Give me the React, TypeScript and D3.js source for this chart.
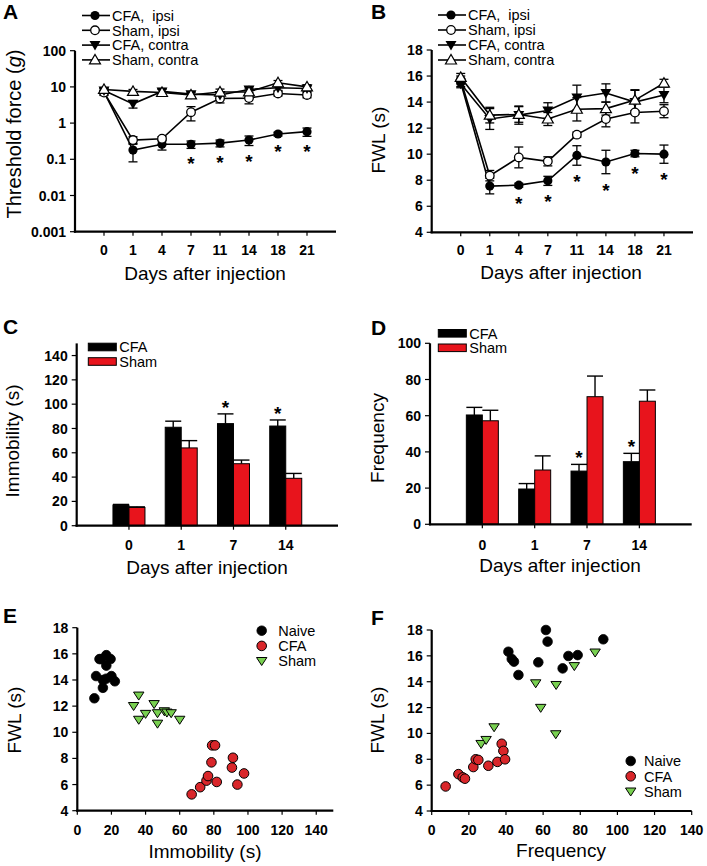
import React from 'react';
import * as d3 from 'd3';

const FONT = "'Liberation Sans', Arial, Helvetica, sans-serif";

// ---------- Panel A / B data ----------
const lineDays = ['0', '1', '4', '7', '11', '14', '18', '21'];
const lineSeriesNames = ['CFA,  ipsi', 'Sham, ipsi', 'CFA, contra', 'Sham, contra'];
const lineMarkers = ['fc', 'oc', 'ft', 'ot'];

const thrCfaIpsi = [7.3, 0.18, 0.26, 0.26, 0.28, 0.34, 0.5, 0.58];
const thrCfaIpsiErr = [1.5, 0.095, 0.08, 0.06, 0.06, 0.1, 0.06, 0.15];
const thrShamIpsi = [7, 0.34, 0.37, 2.0, 4.8, 4.9, 6.6, 6.0];
const thrShamIpsiErr = [1, 0.08, 0.05, 0.85, 1.2, 1.5, 1, 1];
const thrCfaContra = [8, 3.4, 7.5, 6.3, 6.0, 8.5, 9.5, 9.0];
const thrCfaContraErr = [1, 0.8, 1.5, 1, 1.2, 1.5, 1.5, 1.5];
const thrShamContra = [8.5, 7.5, 7.0, 6.0, 7.2, 7.3, 13, 10];
const thrShamContraErr = [1, 1, 1.5, 1, 1.5, 1.5, 2, 1.5];
const thrStars = [3, 4, 5, 6, 7];
const thrTicks = [0.001, 0.01, 0.1, 1, 10, 100];
const thrTickLabels = ['0.001', '0.01', '0.1', '1', '10', '100'];

const fwlCfaIpsi = [15.5, 7.55, 7.62, 7.95, 9.9, 9.4, 10.05, 10.0];
const fwlCfaIpsiErr = [0.3, 0.6, 0.15, 0.35, 0.75, 0.9, 0.25, 0.7];
const fwlShamIpsi = [15.7, 8.35, 9.75, 9.45, 11.5, 12.7, 13.2, 13.3];
const fwlShamIpsiErr = [0.3, 0.4, 0.8, 0.35, 0.2, 0.6, 0.8, 0.5];
const fwlCfaContra = [15.4, 12.7, 13.0, 13.35, 14.35, 14.7, 14.0, 14.55];
const fwlCfaContraErr = [0.3, 0.8, 0.7, 0.6, 0.95, 0.7, 0.9, 0.6];
const fwlShamContra = [15.9, 13.0, 13.05, 12.7, 13.45, 13.5, 14.15, 15.45];
const fwlShamContraErr = [0.3, 0.6, 0.6, 0.5, 0.9, 0.5, 0.8, 0.3];
const fwlStars = [2, 3, 4, 5, 6, 7];
const fwlTicks = [4, 6, 8, 10, 12, 14, 16, 18];

// ---------- Panel C / D data ----------
const barDays = ['0', '1', '7', '14'];
const barNames = ['CFA', 'Sham'];
const immCFA = [17, 81, 84, 82];
const immCFAErr = [0.5, 5, 8, 5];
const immSham = [15, 64, 51, 39];
const immShamErr = [0.5, 6, 3, 4];
const immStars = [2, 3];
const immTicks = [0, 20, 40, 60, 80, 100, 120, 140];
const freqCFA = [60.4, 19.5, 29.4, 34.6];
const freqCFAErr = [4.2, 3, 3.7, 4.6];
const freqSham = [57.2, 30, 70.5, 68];
const freqShamErr = [5.8, 7.8, 11.4, 6.2];
const freqStars = [2, 3];
const freqTicks = [0, 20, 40, 60, 80, 100];

// ---------- Panel E / F data ----------
const scatterNames = ['Naive', 'CFA', 'Sham'];
const eNaiveX = [10, 11, 13, 14, 17, 19.5, 17, 15, 15, 20, 22, 17];
const eNaiveY = [12.6, 14.3, 15.6, 15.6, 15.9, 15.6, 15.1, 14.0, 13.4, 14.3, 13.9, 14.1];
const eCfaX = [67, 72, 75.7, 76.6, 78.6, 79, 80.7, 81.7, 91.2, 90.6, 97.7, 93.8];
const eCfaY = [5.25, 5.8, 6.3, 6.65, 7.7, 9.0, 9.0, 6.2, 8.05, 7.3, 6.85, 6.0];
const eShamX = [36, 33, 36, 40, 45, 47, 47, 51, 52.5, 55, 60];
const eShamY = [12.8, 12.0, 10.95, 11.4, 12.15, 11.45, 10.65, 11.6, 11.5, 11.45, 10.95];

const fNaiveX = [41.3, 43.1, 44.3, 46.7, 57.4, 61.5, 62.4, 70.5, 73.6, 78.6, 92.4];
const fNaiveY = [16.32, 15.76, 15.55, 14.52, 15.5, 18.0, 17.1, 15.03, 15.99, 16.06, 17.28];
const fCfaX = [7.5, 14.4, 16.7, 17.9, 22.4, 23.7, 25.1, 30.5, 35.4, 37.7, 38.6, 39.5];
const fCfaY = [5.9, 6.85, 6.6, 6.5, 7.4, 8.0, 7.95, 7.5, 7.8, 9.2, 8.65, 8.0];
const fShamX = [56, 67, 58.7, 66.8, 76.8, 88, 26.6, 29.3, 33.6];
const fShamY = [13.87, 13.74, 11.97, 9.93, 15.2, 16.25, 9.18, 9.49, 10.47];

const scatterXTicksE = [0, 20, 40, 60, 80, 100, 120, 140];
const scatterXTicksF = [0, 20, 40, 60, 80, 100, 120, 140];
const scatterYTicks = [4, 6, 8, 10, 12, 14, 16, 18];

// ---------- styles ----------
const RED = '#e8141c';
const SC_RED = '#d9262a';
const SC_GREEN = '#78d050';

const tickStyle: React.CSSProperties = { fontFamily: FONT, fontSize: 14, fontWeight: 700 };
const titleStyle: React.CSSProperties = { fontFamily: FONT, fontSize: 19 };
const legendStyle: React.CSSProperties = { fontFamily: FONT, fontSize: 14.5, whiteSpace: 'pre' };
const letterStyle: React.CSSProperties = { fontFamily: FONT, fontSize: 21, fontWeight: 900 };

function Marker({ type, x, y }: { type: string; x: number; y: number }) {
  if (type === 'fc') return <circle cx={x} cy={y} r={4.6} fill="#000" />;
  if (type === 'oc') return <circle cx={x} cy={y} r={4.3} fill="#fff" stroke="#000" strokeWidth={1.3} />;
  if (type === 'ft')
    return <path d={`M${x - 5.5},${y - 4}L${x + 5.5},${y - 4}L${x},${y + 5.5}Z`} fill="#000" />;
  if (type === 'ot')
    return (
      <path d={`M${x - 5.5},${y + 4}L${x + 5.5},${y + 4}L${x},${y - 5.5}Z`} fill="#fff" stroke="#000" strokeWidth={1.2} />
    );
  if (type === 'naive') return <circle cx={x} cy={y} r={4.8} fill="#000" stroke="#000" strokeWidth={0.8} />;
  if (type === 'cfa') return <circle cx={x} cy={y} r={4.8} fill={SC_RED} stroke="#000" strokeWidth={1} />;
  if (type === 'sham')
    return (
      <path d={`M${x - 5.2},${y - 3.6}L${x + 5.2},${y - 3.6}L${x},${y + 4.4}Z`} fill={SC_GREEN} stroke="#000" strokeWidth={1} />
    );
  return null;
}

function Star({ x, y }: { x: number; y: number }) {
  const fs = 19;
  return (
    <text x={x} y={y + 0.58 * fs} textAnchor="middle" style={{ fontFamily: FONT, fontSize: fs, fontWeight: 700 }}>
      *
    </text>
  );
}

function YAxis({ x, scale, ticks, labels, top }: any) {
  const r = scale.range();
  return (
    <g>
      <line x1={x} x2={x} y1={r[0] + 1} y2={top ?? r[1]} stroke="#000" strokeWidth={2.2} />
      {ticks.map((t: number, i: number) => (
        <g key={i}>
          <line x1={x - 5} x2={x} y1={scale(t)} y2={scale(t)} stroke="#000" strokeWidth={1.2} />
          <text x={x - 9} y={scale(t)} dy="0.36em" textAnchor="end" style={tickStyle}>
            {labels ? labels[i] : String(t)}
          </text>
        </g>
      ))}
    </g>
  );
}

function XAxis({ y, x0, x1, positions, labels, labelY }: any) {
  return (
    <g>
      <line x1={x0 - 1.1} x2={x1} y1={y} y2={y} stroke="#000" strokeWidth={2.2} />
      {positions.map((p: number, i: number) => (
        <g key={i}>
          <line x1={p} x2={p} y1={y} y2={y + 4} stroke="#000" strokeWidth={1.2} />
          <text x={p} y={labelY} textAnchor="middle" style={tickStyle}>
            {labels[i]}
          </text>
        </g>
      ))}
    </g>
  );
}

function LinePanel({ xs, ys, series, errs, stars, starOffset, isLog, yTicks, yTickLabels, legendX, legendY, legendStep }: any) {
  const line = d3
    .line<number>()
    .x((_, i) => xs(i + 1))
    .y((d) => ys(d));
  const cfa = series[0];
  const cfaErr = errs[0];
  return (
    <g>
      {series.map((s: number[], k: number) => (
        <path key={'l' + k} d={line(s) || ''} fill="none" stroke="#000" strokeWidth={1.6} />
      ))}
      {series.map((s: number[], k: number) =>
        s.map((v, i) => {
          const lo = isLog ? Math.max(v - errs[k][i], 0.002) : v - errs[k][i];
          const hi = v + errs[k][i];
          const x = xs(i + 1);
          return (
            <g key={'e' + k + '-' + i}>
              <line x1={x} x2={x} y1={ys(lo)} y2={ys(hi)} stroke="#000" strokeWidth={1.3} />
              <line x1={x - 4.5} x2={x + 4.5} y1={ys(lo)} y2={ys(lo)} stroke="#000" strokeWidth={1.3} />
              <line x1={x - 4.5} x2={x + 4.5} y1={ys(hi)} y2={ys(hi)} stroke="#000" strokeWidth={1.3} />
            </g>
          );
        })
      )}
      {series.map((s: number[], k: number) =>
        s.map((v, i) => <Marker key={'m' + k + '-' + i} type={lineMarkers[k]} x={xs(i + 1)} y={ys(v)} />)
      )}
      {stars.map((i: number) => {
        const lo = isLog ? Math.max(cfa[i] - cfaErr[i], 0.002) : cfa[i] - cfaErr[i];
        return <Star key={'s' + i} x={xs(i + 1)} y={ys(lo) + starOffset} />;
      })}
      {lineSeriesNames.map((name, k) => {
        const y = legendY + k * legendStep;
        return (
          <g key={'lg' + k}>
            <line x1={legendX} x2={legendX + 28} y1={y} y2={y} stroke="#000" strokeWidth={1.6} />
            <Marker type={lineMarkers[k]} x={legendX + 13} y={y} />
            <text x={legendX + 30} y={y} dy="0.36em" style={legendStyle}>
              {name}
            </text>
          </g>
        );
      })}
      <YAxis x={xs.range()[0]} scale={ys} ticks={yTicks} labels={yTickLabels} />
    </g>
  );
}

function BarPanel({ xs, ys, a, aErr, b, bErr, stars, legendX, legendY }: any) {
  const bw = 16;
  return (
    <g>
      {a.map((v: number, i: number) => {
        const cx = xs(i + 1);
        const items = [
          { x: cx - bw, v, e: aErr[i], fill: '#000' },
          { x: cx, v: b[i], e: bErr[i], fill: RED },
        ];
        return (
          <g key={i}>
            {items.map((it, j) => (
              <g key={j}>
                <line x1={it.x + bw / 2} x2={it.x + bw / 2} y1={ys(it.v)} y2={ys(it.v + it.e)} stroke="#000" strokeWidth={1.4} />
                <line x1={it.x} x2={it.x + bw} y1={ys(it.v + it.e)} y2={ys(it.v + it.e)} stroke="#000" strokeWidth={1.4} />
                <rect x={it.x} y={ys(it.v)} width={bw} height={ys(0) - ys(it.v)} fill={it.fill} stroke="#000" strokeWidth={1} />
              </g>
            ))}
          </g>
        );
      })}
      {stars.map((i: number) => (
        <Star key={'s' + i} x={xs(i + 1) - bw / 2} y={ys(a[i] + aErr[i]) - 11} />
      ))}
      {barNames.map((n, k) => (
        <g key={n}>
          <rect x={legendX} y={legendY + k * 14.5 - 3.8} width={28} height={7.6} fill={k === 0 ? '#000' : RED} stroke="#000" strokeWidth={1} />
          <text x={legendX + 31} y={legendY + k * 14.5} dy="0.36em" style={legendStyle}>
            {n}
          </text>
        </g>
      ))}
    </g>
  );
}

function ScatterPanel({ xs, ys, groups, legendX, legendTextX, legendY, legendStep }: any) {
  const types = ['naive', 'cfa', 'sham'];
  return (
    <g>
      {groups.map((g: any, k: number) =>
        g.x.map((xv: number, i: number) => <Marker key={k + '-' + i} type={types[k]} x={xs(xv)} y={ys(g.y[i])} />)
      )}
      {scatterNames.map((n, k) => (
        <g key={n}>
          <Marker type={types[k]} x={legendX} y={legendY + k * legendStep} />
          <text x={legendTextX} y={legendY + k * legendStep} dy="0.36em" style={legendStyle}>
            {n}
          </text>
        </g>
      ))}
    </g>
  );
}

function YTitle({ x, y, children, size }: any) {
  return (
    <text transform={`translate(${x},${y}) rotate(-90)`} textAnchor="middle" style={{ ...titleStyle, fontSize: size ?? 19 }}>
      {children}
    </text>
  );
}

export default function App() {
  // Panel A
  const xA = d3.scaleLinear().domain([0, 9]).range([75, 336]);
  const yA = d3.scaleLog().domain([0.001, 100]).range([231.7, 50.7]);
  // Panel B
  const xB = d3.scaleLinear().domain([0, 9]).range([431.7, 693]);
  const yB = d3.scaleLinear().domain([4, 18]).range([232.3, 50]);
  // Panel C
  const xC = d3.scaleLinear().domain([0, 5]).range([76.7, 338]);
  const yC = d3.scaleLinear().domain([0, 150]).range([525.7, 343.4]);
  // Panel D
  const xD = d3.scaleLinear().domain([0, 5]).range([430, 691.7]);
  const yD = d3.scaleLinear().domain([0, 100]).range([524.3, 343.3]);
  // Panel E
  const xE = d3.scaleLinear().domain([0, 150]).range([77.3, 333.3]);
  const yE = d3.scaleLinear().domain([4, 18]).range([810.7, 627.7]);
  // Panel F
  const xF = d3.scaleLinear().domain([0, 140]).range([431.7, 691.7]);
  const yF = d3.scaleLinear().domain([4, 18]).range([811, 630]);

  const linePos = (xs: any) => lineDays.map((_, i) => xs(i + 1));
  const barPos = (xs: any) => barDays.map((_, i) => xs(i + 1));

  return (
    <svg width={707} height={866} style={{ position: 'absolute', left: 0, top: 0, background: '#fff' }}>
      <rect width={707} height={866} fill="#fff" />
      {/* Panel letters */}
      <text x={3} y={18.5} style={letterStyle}>A</text>
      <text x={371} y={18.5} style={letterStyle}>B</text>
      <text x={3} y={333.5} style={letterStyle}>C</text>
      <text x={371} y={335} style={letterStyle}>D</text>
      <text x={3} y={622.7} style={letterStyle}>E</text>
      <text x={371} y={625} style={letterStyle}>F</text>

      {/* Panel A */}
      <LinePanel
        xs={xA}
        ys={yA}
        series={[thrCfaIpsi, thrShamIpsi, thrCfaContra, thrShamContra]}
        errs={[thrCfaIpsiErr, thrShamIpsiErr, thrCfaContraErr, thrShamContraErr]}
        stars={thrStars}
        starOffset={11}
        isLog
        yTicks={thrTicks}
        yTickLabels={thrTickLabels}
        legendX={82}
        legendY={15.5}
        legendStep={14.8}
      />
      <XAxis y={231.7} x0={75} x1={336} positions={linePos(xA)} labels={lineDays} labelY={255} />
      <text x={205} y={279.5} textAnchor="middle" style={titleStyle}>Days after injection</text>
      <YTitle x={21} y={134} size={20}>
        Threshold force (<tspan fontStyle="italic">g</tspan>)
      </YTitle>

      {/* Panel B */}
      <LinePanel
        xs={xB}
        ys={yB}
        series={[fwlCfaIpsi, fwlShamIpsi, fwlCfaContra, fwlShamContra]}
        errs={[fwlCfaIpsiErr, fwlShamIpsiErr, fwlCfaContraErr, fwlShamContraErr]}
        stars={fwlStars}
        starOffset={12}
        isLog={false}
        yTicks={fwlTicks}
        legendX={438}
        legendY={15}
        legendStep={15}
      />
      <XAxis y={232.3} x0={431.7} x1={693} positions={linePos(xB)} labels={lineDays} labelY={255} />
      <text x={561} y={278.5} textAnchor="middle" style={titleStyle}>Days after injection</text>
      <YTitle x={385} y={140}>FWL (s)</YTitle>

      {/* Panel C */}
      <BarPanel xs={xC} ys={yC} a={immCFA} aErr={immCFAErr} b={immSham} bErr={immShamErr} stars={immStars} legendX={88.3} legendY={347} />
      <YAxis x={76.7} scale={yC} ticks={immTicks} />
      <XAxis y={525.7} x0={76.7} x1={338} positions={barPos(xC)} labels={barDays} labelY={550} />
      <text x={207} y={573.5} textAnchor="middle" style={titleStyle}>Days after injection</text>
      <YTitle x={19} y={441}>Immobility (s)</YTitle>

      {/* Panel D */}
      <BarPanel xs={xD} ys={yD} a={freqCFA} aErr={freqCFAErr} b={freqSham} bErr={freqShamErr} stars={freqStars} legendX={438.3} legendY={333.3} />
      <YAxis x={430} scale={yD} ticks={freqTicks} />
      <XAxis y={524.3} x0={430} x1={691.7} positions={barPos(xD)} labels={barDays} labelY={550} />
      <text x={560} y={572} textAnchor="middle" style={titleStyle}>Days after injection</text>
      <YTitle x={384} y={438}>Frequency</YTitle>

      {/* Panel E */}
      <ScatterPanel
        xs={xE}
        ys={yE}
        groups={[
          { x: eNaiveX, y: eNaiveY },
          { x: eCfaX, y: eCfaY },
          { x: eShamX, y: eShamY },
        ]}
        legendX={261.7}
        legendTextX={278.3}
        legendY={630.7}
        legendStep={15.2}
      />
      <YAxis x={77.3} scale={yE} ticks={scatterYTicks} />
      <XAxis y={810.7} x0={77.3} x1={333.3} positions={scatterXTicksE.map((t) => xE(t))} labels={scatterXTicksE.map(String)} labelY={835} />
      <text x={205} y={858} textAnchor="middle" style={titleStyle}>Immobility (s)</text>
      <YTitle x={21} y={720}>FWL (s)</YTitle>

      {/* Panel F */}
      <ScatterPanel
        xs={xF}
        ys={yF}
        groups={[
          { x: fNaiveX, y: fNaiveY },
          { x: fCfaX, y: fCfaY },
          { x: fShamX, y: fShamY },
        ]}
        legendX={630.7}
        legendTextX={644}
        legendY={761}
        legendStep={15.3}
      />
      <YAxis x={431.7} scale={yF} ticks={scatterYTicks} />
      <XAxis y={811} x0={431.7} x1={691.7} positions={scatterXTicksF.map((t) => xF(t))} labels={scatterXTicksF.map(String)} labelY={835} />
      <text x={561} y={856.5} textAnchor="middle" style={titleStyle}>Frequency</text>
      <YTitle x={384} y={720}>FWL (s)</YTitle>
    </svg>
  );
}
